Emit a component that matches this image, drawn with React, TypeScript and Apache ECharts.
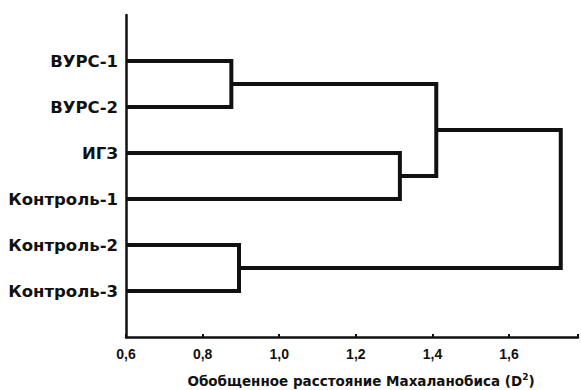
import React, { useEffect, useRef } from "react";
import * as echarts from "echarts";

// Leaves of the dendrogram, top to bottom
const leaves = ["ВУРС-1", "ВУРС-2", "ИГЗ", "Контроль-1", "Контроль-2", "Контроль-3"];
// Merges: [childA, childB, distance]; indices < leaves.length are leaves, others are earlier merges (leaves.length + k)
const mergeA = [0, 4, 2, 6, 9];
const mergeB = [1, 5, 3, 8, 7];
const mergeDist = [0.875, 0.895, 1.315, 1.41, 1.735];
// X axis tick settings
const xMin = 0.6;
const xMax = 1.78;
const xStep = 0.2;
const xTitle = "{b|Обобщенное расстояние Махаланобиса (D}{sup|2}{b|)}";

export default function App() {
  const ref = useRef<HTMLDivElement>(null);
  useEffect(() => {
    if (!ref.current) return;
    const chart = echarts.init(ref.current, undefined, { renderer: "svg" });
    const n = leaves.length;
    const nodeX: number[] = [];
    const nodeY: number[] = [];
    leaves.forEach((_, i) => {
      nodeX[i] = xMin;
      nodeY[i] = i + 1;
    });
    const series: any[] = [];
    mergeDist.forEach((h, k) => {
      const a = mergeA[k];
      const b = mergeB[k];
      const id = n + k;
      nodeX[id] = h;
      nodeY[id] = (nodeY[a] + nodeY[b]) / 2;
      series.push({
        type: "line",
        data: [
          [nodeX[a], nodeY[a]],
          [h, nodeY[a]],
          [h, nodeY[b]],
          [nodeX[b], nodeY[b]],
        ],
        symbol: "none",
        silent: true,
        lineStyle: { color: "#111", width: 4, join: "miter", cap: "butt" },
      });
    });
    const boldName = {
      fontFamily: "DejaVu Sans",
      fontWeight: "bold",
      fontSize: 13.5,
      color: "#111",
    };
    chart.setOption({
      animation: false,
      backgroundColor: "#fff",
      grid: { left: 126, right: 3, top: 15, bottom: 53, containLabel: false, outerBoundsMode: "none" },
      xAxis: {
        type: "value",
        position: "bottom",
        min: xMin,
        max: xMax,
        interval: xStep,
        name: xTitle,
        nameLocation: "middle",
        nameGap: 35,
        nameTextStyle: {
          ...boldName,
          padding: [0, 0, 0, 18],
          rich: {
            b: boldName,
            sup: { ...boldName, fontSize: 9, padding: [0, 0, 8, 0] },
          },
        },
        axisLine: { onZero: false, lineStyle: { color: "#111", width: 2.5 } },
        axisTick: { inside: true, length: 3, lineStyle: { color: "#111", width: 2 } },
        axisLabel: {
          fontFamily: "Liberation Sans",
          fontWeight: "bold",
          fontSize: 14,
          color: "#111",
          margin: 10,
          formatter: (v: number) => (v > 1.7 ? "" : v.toFixed(1).replace(".", ",")),
        },
        splitLine: { show: false },
      },
      yAxis: {
        type: "value",
        min: 0,
        max: n + 1,
        interval: 1,
        inverse: true,
        axisLine: { show: true, onZero: false, lineStyle: { color: "#111", width: 2.5 } },
        axisTick: { show: false },
        splitLine: { show: false },
        axisLabel: {
          fontFamily: "DejaVu Sans",
          fontWeight: "bold",
          fontSize: 16.5,
          color: "#111",
          margin: 8,
          formatter: (v: number) => leaves[v - 1] ?? "",
        },
      },
      series,
    });
    return () => chart.dispose();
  }, []);
  return <div ref={ref} style={{ position: "fixed", left: 0, top: 0, width: 581, height: 390 }} />;
}
